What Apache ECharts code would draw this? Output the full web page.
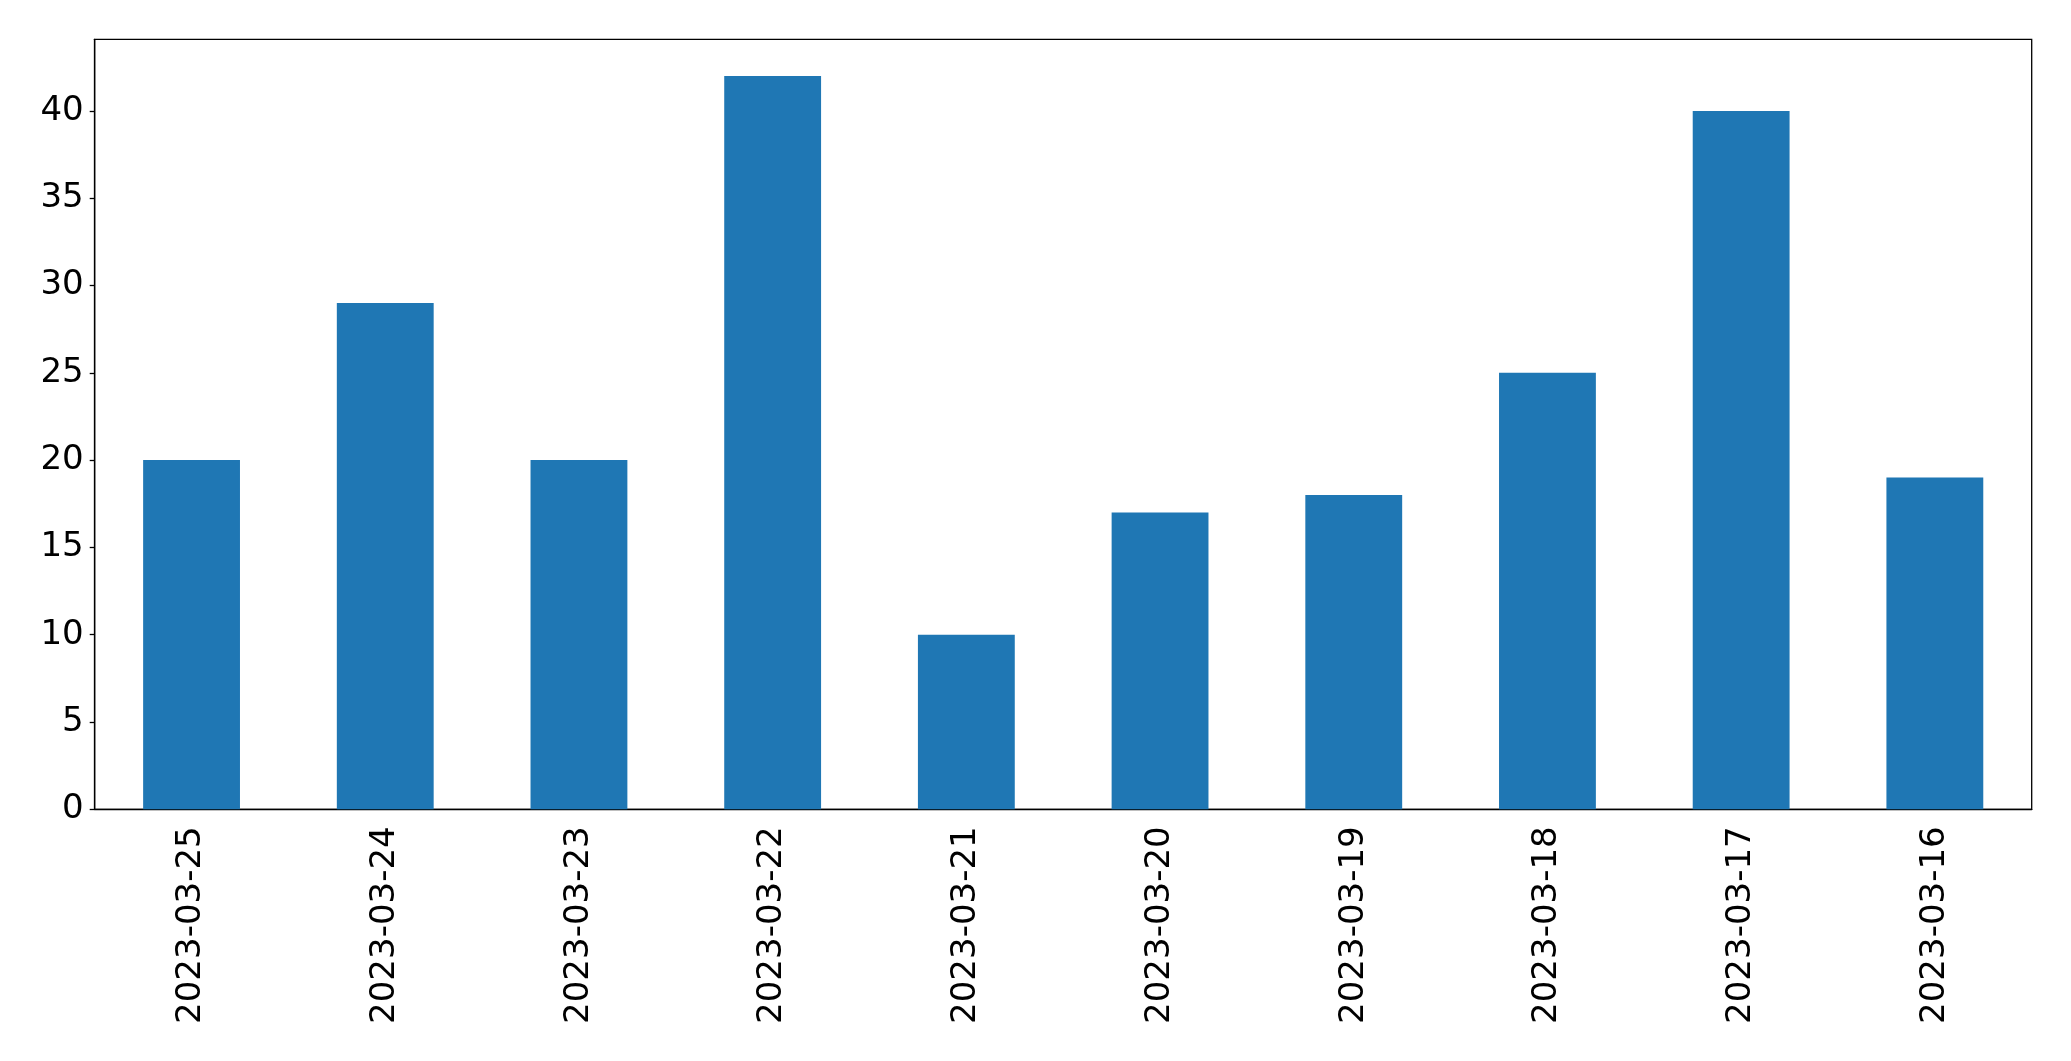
<!DOCTYPE html>
<html>
<head>
<meta charset="utf-8">
<script src="https://cdn.jsdelivr.net/npm/echarts@6/dist/echarts.min.js"></script>
<style>
html,body{margin:0;padding:0;background:#fff;}
#chart{width:2071px;height:1061px;}
</style>
</head>
<body>
<div id="chart"></div>
<script>
const categories = ["2023-03-25","2023-03-24","2023-03-23","2023-03-22","2023-03-21","2023-03-20","2023-03-19","2023-03-18","2023-03-17","2023-03-16"];
const values = [20, 29, 20, 42, 10, 17, 18, 25, 40, 19];
const yTicks = [0, 5, 10, 15, 20, 25, 30, 35, 40];

const chart = echarts.init(document.getElementById('chart'), null, {renderer: 'canvas'});
const font = 'DejaVu Sans';
chart.setOption({
  animation: false,
  backgroundColor: '#ffffff',
  grid: {
    left: 94.7, right: 39.3, top: 39.3, bottom: 251.7,
    show: true, borderColor: '#000', borderWidth: 1.3, backgroundColor: 'transparent'
  },
  xAxis: {
    type: 'category',
    data: categories,
    axisLine: {lineStyle: {color: '#000', width: 1.3}},
    axisTick: {alignWithLabel: true, length: 5, lineStyle: {color: '#000', width: 1.3}},
    axisLabel: {rotate: 90, margin: 17, color: '#000', fontFamily: font, fontSize: 34, interval: 0},
    splitLine: {show: false}
  },
  yAxis: {
    type: 'value',
    min: 0, max: 44.1,
    axisLine: {show: true, lineStyle: {color: '#000', width: 1.3}},
    axisTick: {show: true, length: 5, customValues: yTicks, lineStyle: {color: '#000', width: 1.3}},
    axisLabel: {margin: 11, color: '#000', fontFamily: font, fontSize: 34, customValues: yTicks},
    splitLine: {show: false}
  },
  series: [{
    type: 'bar',
    data: values,
    barWidth: '50%',
    itemStyle: {color: '#1f77b4'}
  }]
});
</script>
</body>
</html>
